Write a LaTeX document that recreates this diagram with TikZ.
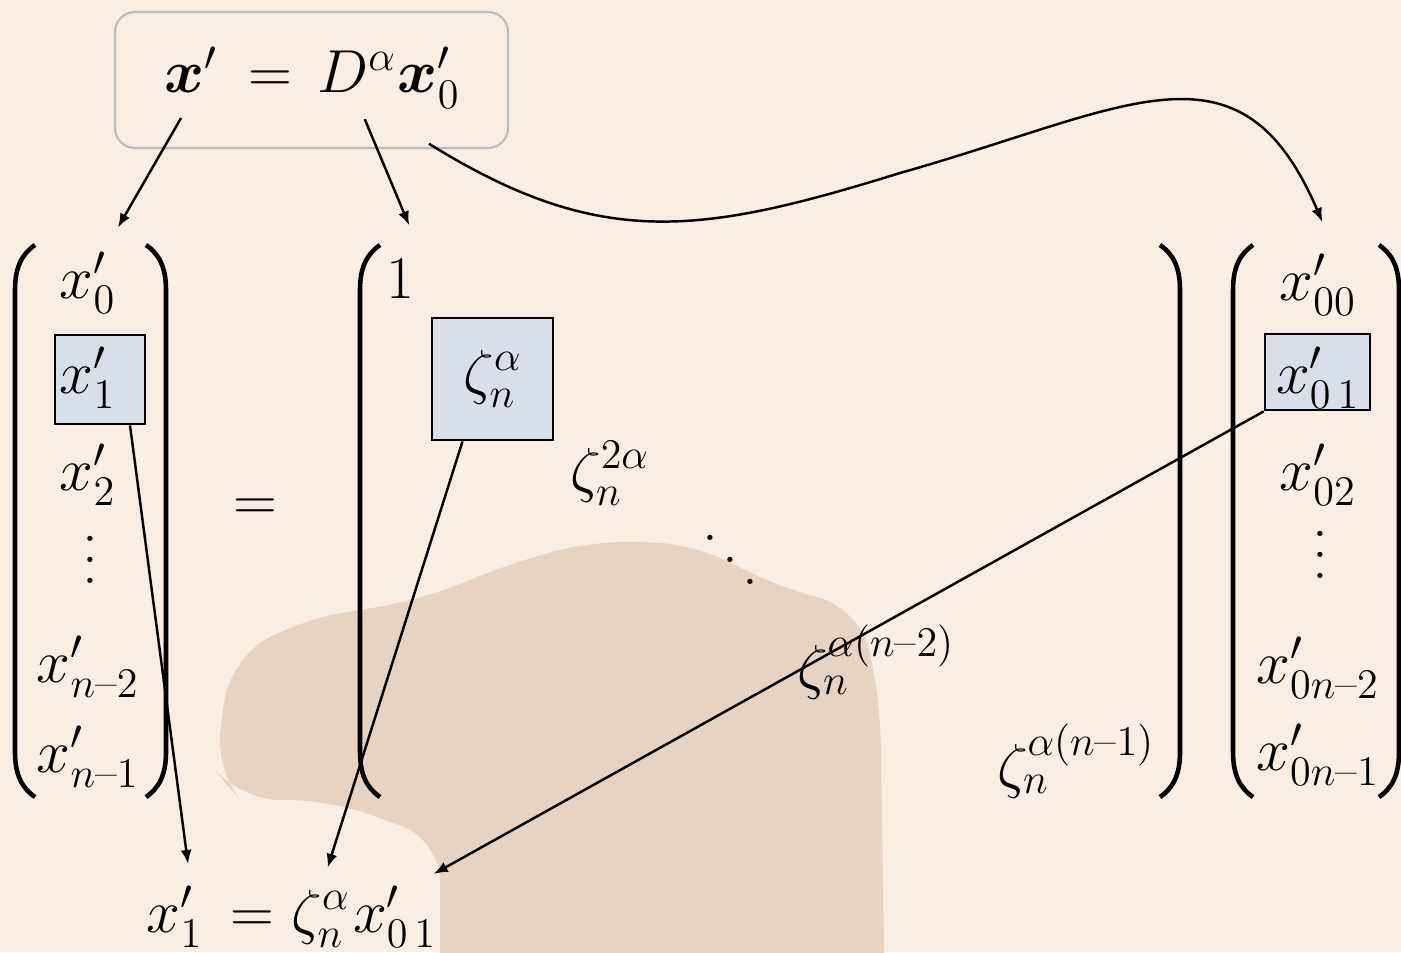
\documentclass[tikz,border=0pt]{standalone}
\usepackage{amsmath}
\usepackage{tikz}
\usetikzlibrary{arrows.meta}
\definecolor{Peach}{HTML}{FAEDE1}
\definecolor{Clay}{HTML}{E8D3C2}
\definecolor{Slate}{HTML}{D9DFE9}
\definecolor{Frame}{HTML}{B9BCC1}

\newcommand{\tallvdots}{\vbox{\baselineskip=6pt\lineskiplimit=0pt\hbox{.}\hbox{.}\hbox{.}}}
\newcommand{\wideddots}{\mbox{\raise12.4pt\hbox{.}\kern1.2pt\raise6.2pt\hbox{.}\kern1.2pt\hbox{.}}}

\tikzset{
  term/.style={anchor=base,inner sep=2pt},
  paren/.style={line width=1.3pt},
  pick/.style={draw,fill=Slate,line width=0.8pt,inner sep=0pt},
  arr/.style={-{Latex[length=0.14cm,width=0.11cm]},line width=0.7pt}
}

\begin{document}
\begin{tikzpicture}[x=1cm,y=1cm,every node/.style={font=\fontsize{18}{22}\selectfont}]
        \useasboundingbox (0,0) rectangle (14.01,9.52);
        \fill[Peach] (0,0) rectangle (14.01,9.52);
        \fill[Clay,rounded corners=0.4cm] (2.15,1.82) -- (2.30,2.92) -- (3.00,3.32) -- (4.20,3.52)
          -- (5.20,3.92) -- (6.00,4.12) -- (7.00,4.07) -- (7.60,3.72) -- (8.60,3.42) -- (8.80,2.52)
          -- (8.85,-0.5) -- (4.40,-0.5) -- (4.40,1.12) -- (3.30,1.52) -- (2.40,1.52) -- cycle;

        % equation on top
        \node[draw=Frame,line width=0.6pt,rounded corners=0.2cm,minimum width=3.93cm,minimum height=1.36cm] (topbox) at (3.115,8.72) {};
        \node[term] (lhsx) at (1.91,8.59) {$\boldsymbol{x}'$};
        \node[term] (eqtop) at (2.70,8.59) {$=$};
        \node[term] (Dmat) at (3.57,8.59) {$D^{\alpha}$};
        \node[term] (xzero) at (4.29,8.59) {$\boldsymbol{x}'_0$};

        % parentheses
        \foreach \x in {0.15,3.60,12.33}
          \draw[paren] (\x+0.20,7.07) .. controls (\x+0.07,6.98) and (\x,6.85) .. (\x,6.62) -- (\x,2.00)
            .. controls (\x,1.77) and (\x+0.07,1.64) .. (\x+0.20,1.55);
        \foreach \x in {1.66,11.80,13.99}
          \draw[paren] (\x-0.20,7.07) .. controls (\x-0.07,6.98) and (\x,6.85) .. (\x,6.62) -- (\x,2.00)
            .. controls (\x,1.77) and (\x-0.07,1.64) .. (\x-0.20,1.55);

        % left vector
        \node[pick,minimum width=0.90cm,minimum height=0.89cm] (b1) at (1.00,5.725) {};
        \node[term] (e0) at (0.88,6.54) {$x'_0$};
        \node[term] (e1) at (0.88,5.59) {$x'_1$};
        \node[term] (e2) at (0.88,4.62) {$x'_2$};
        \node (e3) at (0.90,3.92) {\tallvdots};
        \node[term] (e4) at (0.88,2.70) {$x'_{n\text{--}2}$};
        \node[term] (e5) at (0.88,1.80) {$x'_{n\text{--}1}$};

        \node (eqmid) at (2.55,4.42) {$=$};

        % diagonal matrix
        \node[pick,minimum width=1.21cm,minimum height=1.22cm] (bz) at (4.925,5.73) {};
        \node[term] (one) at (4.00,6.54) {$1$};
        \node (z1) at (4.93,5.73) {$\zeta_n^{\alpha}$};
        \node (z2) at (6.10,4.79) {$\zeta_n^{2\alpha}$};
        \node (dd) at (7.30,3.92) {\wideddots};
        \node (z3) at (8.76,2.90) {$\zeta_n^{\alpha(n\text{--}2)}$};
        \node (z4) at (10.76,1.91) {$\zeta_n^{\alpha(n\text{--}1)}$};

        % right vector
        \node[pick,minimum width=1.05cm,minimum height=0.76cm] (b01) at (13.175,5.80) {};
        \node[term] (r0) at (13.18,6.52) {$x'_{00}$};
        \node[term] (r1) at (13.18,5.59) {$x'_{0\,1}$};
        \node[term] (r2) at (13.18,4.62) {$x'_{02}$};
        \node (r3) at (13.20,3.97) {\tallvdots};
        \node[term] (r4) at (13.18,2.69) {$x'_{0n\text{--}2}$};
        \node[term] (r5) at (13.18,1.82) {$x'_{0n\text{--}1}$};

        % result
        \node[term] (bx1) at (1.75,0.20) {$x'_1$};
        \node[term] (beq) at (2.52,0.20) {$=$};
        \node[term] (bzeta) at (3.21,0.20) {$\zeta_n^{\alpha}$};
        \node[term] (bx01) at (3.95,0.20) {$x'_{0\,1}$};

        \draw[arr,shorten <=0.2cm,shorten >=0.2cm] (lhsx.south) -- ([xshift=0.2cm]e0.north);
        \draw[arr,shorten <=0.2cm,shorten >=0.28cm] (Dmat.south) -- ([xshift=0.2cm]one.north);
        \draw[arr,shorten >=0.27cm] ([yshift=-0.28cm]xzero.south) .. controls (6.00,7.02) and (7.00,7.17) .. (9.00,7.79)
          .. controls (11.30,8.44) and (12.40,9.22) .. ([xshift=0.15cm]r0.north);
        \draw[arr,shorten >=0.15cm] ([xshift=0.3cm]b1.south) -- ([xshift=0.15cm]bx1.north);
        \draw[arr,shorten >=0.15cm] ([xshift=-0.3cm]bz.south) -- ([xshift=0.02cm]bzeta.north);
        \draw[arr,shorten >=0.1cm] (b01.south west) -- ([xshift=0.3cm]bx01.north);
      \end{tikzpicture}
\end{document}
